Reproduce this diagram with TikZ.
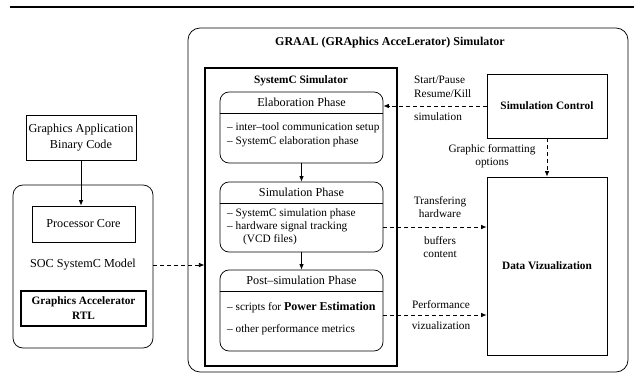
\documentclass[tikz,border=0pt]{standalone}
\usepackage{fontspec}
\setmainfont{Liberation Serif}
\usetikzlibrary{arrows.meta}

\newcommand{\mainsize}{\fontsize{12.2}{15.5}\selectfont}
\newcommand{\boldsize}{\fontsize{11.3}{15}\selectfont\bfseries}
\newcommand{\notesize}{\fontsize{11.3}{13.5}\selectfont}

\begin{document}
\begin{tikzpicture}[x=1pt,y=-1pt,
    frame/.style={draw, line width=0.75pt, inner sep=0pt, font=\mainsize, align=center},
    heavy/.style={frame, line width=1.1pt},
    rframe/.style={frame, rounded corners=9pt},
    txt/.style={inner sep=0pt, font=\mainsize, align=center},
    note/.style={inner sep=0pt, font=\notesize, align=center},
    item/.style={inner sep=0pt, font=\notesize, anchor=west},
    cut/.style={line width=0.75pt},
    flow/.style={line width=0.75pt, -{Latex[length=5.5pt,width=4.5pt]}},
    dflow/.style={flow, dash pattern=on 4pt off 3pt}]

\useasboundingbox (0,0) rectangle (634,375);
\draw[line width=2.5pt] (10,7) -- (634,7);

% the GRAAL frame
\node[rframe, rounded corners=12pt, minimum width=440pt, minimum height=344pt] (graal) at (408,200) {};
\node[txt, font=\fontsize{12}{14}\selectfont\bfseries] (gtitle) at (390,43) {GRAAL (GRAphics AcceLerator) Simulator};

% SystemC simulator with its three phases
\node[heavy, minimum width=192pt, minimum height=298pt] (sysc) at (301,217) {};
\node[txt, font=\boldsize] (stitle) at (301,81) {SystemC Simulator};

\coordinate (elabcut) at (0,113);
\coordinate (simcut) at (0,203);
\coordinate (postcut) at (0,291);

\node[rframe, minimum width=163pt, minimum height=71pt] (elab) at (301.5,127.5) {};
\node[txt] (elabh) at (301.5,102) {Elaboration Phase};
\draw[cut] (elab.west |- elabcut) -- (elab.east |- elabcut);
\node[item] (e1) at (227,128) {-- inter--tool communication setup};
\node[item] (e2) at (227,142) {-- SystemC elaboration phase};

\node[rframe, minimum width=163pt, minimum height=70pt] (simph) at (301.5,217) {};
\node[txt] (simh) at (301.5,192) {Simulation Phase};
\draw[cut] (simph.west |- simcut) -- (simph.east |- simcut);
\node[item] (s1) at (227,214) {-- SystemC simulation phase};
\node[item] (s2) at (227,227) {-- hardware signal tracking};
\node[item] (s3) at (243,240) {(VCD files)};

\node[rframe, minimum width=163pt, minimum height=81pt] (postph) at (301.5,310.5) {};
\node[txt] (posth) at (301.5,280) {Post--simulation Phase};
\draw[cut] (postph.west |- postcut) -- (postph.east |- postcut);
\node[item] (p1) at (227,308) {-- scripts for {\fontsize{12}{14}\selectfont\bfseries Power Estimation}};
\node[item] (p2) at (227,330) {-- other performance metrics};

\draw[flow] (elab.south) -- (simph.north);
\draw[flow] (simph.south) -- (postph.north);

% control and display
\node[frame, font=\boldsize, minimum width=120pt, minimum height=64pt] (ctrl) at (547,106) {Simulation Control};
\node[frame, font=\boldsize, minimum width=120pt, minimum height=178pt] (dataviz) at (547,266) {Data Vizualization};

\draw[dflow] (ctrl.west) -- (ctrl.west -| elab.east);
\node[note, anchor=west, align=left] (cmd) at (414,87) {Start/Pause\\Resume/Kill};
\node[note, anchor=west] (cmd2) at (414,117) {simulation};

\draw[dflow] (ctrl.south) -- (dataviz.north);
\node[note] (fmt) at (492,156) {Graphic formatting\\options};

\coordinate (xfer) at (0,227);
\draw[dflow] (simph.east |- xfer) -- (dataviz.west |- xfer);
\node[note] (xf1) at (440,207) {Transfering\\hardware};
\node[note] (xf2) at (440,247) {buffers\\content};

\coordinate (perf) at (0,315);
\draw[dflow] (postph.east |- perf) -- (dataviz.west |- perf);
\node[note] (pf1) at (441,305) {Performance};
\node[note] (pf2) at (441,326) {vizualization};

% SOC model on the left
\node[frame, minimum width=110pt, minimum height=45pt] (gapp) at (81,137.5) {Graphics Application\\Binary Code};
\node[rframe, rounded corners=10pt, minimum width=140pt, minimum height=163pt] (soc) at (83,266.5) {};
\node[frame, minimum width=103pt, minimum height=36pt] (core) at (83.5,224) {Processor Core};
\node[txt] (model) at (83,265) {SOC SystemC Model};
\node[heavy, font=\boldsize, minimum width=125pt, minimum height=35pt] (rtl) at (83.5,308.5) {Graphics Accelerator\\RTL};

\draw[flow] (gapp.south) -- (gapp.south |- core.north);
\draw[dflow] (model -| soc.east) -- (model -| sysc.west);

\end{tikzpicture}
\end{document}
